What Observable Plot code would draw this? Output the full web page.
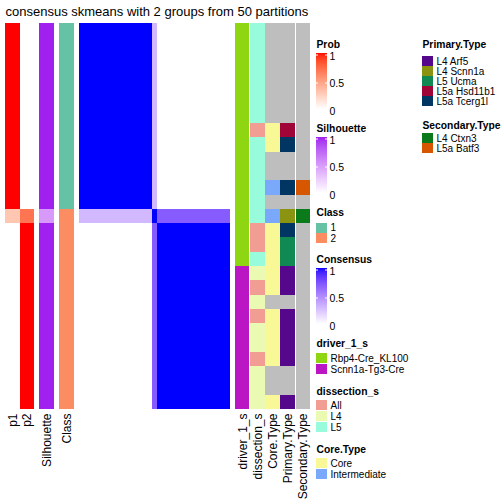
<!DOCTYPE html>
<html>
<head>
<meta charset="utf-8">
<script src="https://cdn.jsdelivr.net/npm/d3@7"></script>
<script src="https://cdn.jsdelivr.net/npm/@observablehq/plot@0.6"></script>
<style>
html,body{margin:0;padding:0;background:#fff;}
</style>
</head>
<body>
<div id="chart"></div>
<script>
// ---------- data ----------
const title = "consensus skmeans with 2 groups from 50 partitions";
const classes = [1,1,1,1,1,1,1,1,1,1,1,1,1,2,2,2,2,2,2,2,2,2,2,2,2,2,2];
const p1 = [1,1,1,1,1,1,1,1,1,1,1,1,1,0.3,0,0,0,0,0,0,0,0,0,0,0,0,0];
const p2 = [0,0,0,0,0,0,0,0,0,0,0,0,0,0.7,1,1,1,1,1,1,1,1,1,1,1,1,1];
const silhouette = [1,1,1,1,1,1,1,1,1,1,1,1,1,0.5,1,1,1,1,1,1,1,1,1,1,1,1,1];
const A = [1,1,1,1,1,1,1,1,1,1,1,1,1,.3,0,0,0,0,0,0,0,0,0,0,0,0,0];
const M = [.3,.3,.3,.3,.3,.3,.3,.3,.3,.3,.3,.3,.3,1,.7,.7,.7,.7,.7,.7,.7,.7,.7,.7,.7,.7,.7];
const B = [0,0,0,0,0,0,0,0,0,0,0,0,0,.7,1,1,1,1,1,1,1,1,1,1,1,1,1];
const consensus = [A,A,A,A,A,A,A,A,A,A,A,A,A,M,B,B,B,B,B,B,B,B,B,B,B,B,B];
const R = "Rbp4-Cre_KL100", S = "Scnn1a-Tg3-Cre";
const driver = [R,R,R,R,R,R,R,R,R,R,R,R,R,R,R,R,R,S,S,S,S,S,S,S,S,S,S];
const dissection = ["L5","L5","L5","L5","L5","L5","L5","All","L5","L5","L5","L5","L5","L5","All","All","L5","L4","All","L4","All","L4","L4","All","L4","L4","L4"];
const coreType = [null,null,null,null,null,null,null,"Core","Core",null,null,"Intermediate",null,"Intermediate","Core","Core","Core","Core","Core",null,"Core","Core","Core","Core",null,null,"Core"];
const primaryType = [null,null,null,null,null,null,null,"L5a Hsd11b1","L5a Tcerg1l",null,null,"L5a Tcerg1l",null,"L4 Scnn1a","L5a Tcerg1l","L5 Ucma","L5 Ucma","L4 Arf5","L4 Arf5",null,"L4 Arf5","L4 Arf5","L4 Arf5","L4 Arf5",null,null,"L4 Arf5"];
const secondaryType = [null,null,null,null,null,null,null,null,null,null,null,"L5a Batf3",null,"L4 Ctxn3",null,null,null,null,null,null,null,null,null,null,null,null,null];
const legendTicks = [1, 0.5, 0];
const classLevels = [1, 2];
const driverLevels = [R, S];
const dissectionLevels = ["All","L4","L5"];
const coreLevels = ["Core","Intermediate"];
const primaryLevels = ["L4 Arf5","L4 Scnn1a","L5 Ucma","L5a Hsd11b1","L5a Tcerg1l"];
const secondaryLevels = ["L4 Ctxn3","L5a Batf3"];

// ---------- styles ----------
const NA = "#BEBEBE";
const classColor = {1:"#66C2A5", 2:"#FC8D62"};
const driverColor = {[R]:"#8ED612", [S]:"#BA16C3"};
const dissectionColor = {"All":"#F29D94","L4":"#EAFAB2","L5":"#98FBDC"};
const coreColor = {"Core":"#F8F896","Intermediate":"#7AA8FA"};
const primaryColor = {"L4 Arf5":"#56088C","L4 Scnn1a":"#8A9410","L5 Ucma":"#108A52","L5a Hsd11b1":"#9F0637","L5a Tcerg1l":"#023662"};
const secondaryColor = {"L4 Ctxn3":"#0A7A1B","L5a Batf3":"#D65700"};
const probCol = d3.interpolateLab("#FFFFFF", "#FF0000");
const silCol = d3.interpolateLab("#FFFFFF", "#A020F0");
const consCol = d3.interpolateLab("#FFFFFF", "#0000FF");
const font = "Liberation Sans, Arial, Helvetica, sans-serif";

// ---------- layout ----------
const N = classes.length;
const bodyTop = 23, bodyBottom = 409, rowH = (bodyBottom - bodyTop) / N;
const hmX0 = 79, hmX1 = 230, colW = (hmX1 - hmX0) / N;
const leftCols = [
  {name:"p1", x1:5, x2:19.7, values:p1, color:probCol},
  {name:"p2", x1:19.7, x2:34.3, values:p2, color:probCol},
  {name:"Silhouette", x1:39, x2:54, values:silhouette, color:silCol},
  {name:"Class", x1:59, x2:74, values:classes, color:v => classColor[v]}
];
const annoCols = [
  {name:"driver_1_s", values:driver, map:driverColor},
  {name:"dissection_s", values:dissection, map:dissectionColor},
  {name:"Core.Type", values:coreType, map:coreColor},
  {name:"Primary.Type", values:primaryType, map:primaryColor},
  {name:"Secondary.Type", values:secondaryType, map:secondaryColor}
].map((c, k) => ({...c, x1: 235 + k * 15.15, x2: 235 + k * 15.15 + 14.4}));

const cells = [];
for (const c of leftCols) c.values.forEach((v, i) => cells.push({x1:c.x1, x2:c.x2, y1:bodyTop + i*rowH, y2:bodyTop + (i+1)*rowH, fill:c.color(v)}));
consensus.forEach((row, i) => row.forEach((v, j) => cells.push({x1:hmX0 + j*colW, x2:hmX0 + (j+1)*colW, y1:bodyTop + i*rowH, y2:bodyTop + (i+1)*rowH, fill:consCol(v)})));
for (const c of annoCols) c.values.forEach((v, i) => cells.push({x1:c.x1, x2:c.x2, y1:bodyTop + i*rowH, y2:bodyTop + (i+1)*rowH, fill: v == null ? NA : c.map[v]}));

const colLabels = [...leftCols, ...annoCols].map(c => ({x:(c.x1 + c.x2) / 2, y:413, text:c.name}));

// gradient legends
const gradLegends = [
  {title:"Prob", off:0, color:probCol},
  {title:"Silhouette", off:84, color:silCol},
  {title:"Consensus", off:215, color:consCol}
];
const gx1 = 316, gx2 = 327;
const gradRects = [], gradTicks = [], gradLabels = [], legTitles = [];
for (const g of gradLegends) {
  const yb0 = 53 + g.off, yb1 = 109 + g.off, steps = 56;
  for (let s = 0; s < steps; s++) {
    const v = 1 - (s + 0.5) / steps;
    gradRects.push({x1:gx1, x2:gx2, y1:yb0 + s*(yb1-yb0)/steps, y2:yb0 + (s+1)*(yb1-yb0)/steps + 0.3, fill:g.color(v)});
  }
  for (const t of legendTicks) {
    const yt = 110.5 - t*56 + g.off;
    if (t > 0) {
      gradTicks.push({x1:gx1, x2:gx1+2, y:yt});
      gradTicks.push({x1:gx2-2, x2:gx2, y:yt});
    }
    gradLabels.push({x:329, y:111 - t*55.3 + g.off, text:String(t)});
  }
  legTitles.push({x:316, y:47 + g.off, text:g.title});
}
// discrete legends
const discrete = [
  {title:"Class", x:316, ty:215, ky:222.5, pitch:10.5, levels:classLevels, color:v => classColor[v]},
  {title:"driver_1_s", x:316, ty:346.5, ky:353, pitch:10.8, levels:driverLevels, color:v => driverColor[v]},
  {title:"dissection_s", x:316, ty:394, ky:400, pitch:10.8, levels:dissectionLevels, color:v => dissectionColor[v]},
  {title:"Core.Type", x:316, ty:452.5, ky:458, pitch:10.8, levels:coreLevels, color:v => coreColor[v]},
  {title:"Primary.Type", x:422, ty:47.3, ky:56, pitch:10, levels:primaryLevels, color:v => primaryColor[v]},
  {title:"Secondary.Type", x:422, ty:128.3, ky:133, pitch:10, levels:secondaryLevels, color:v => secondaryColor[v]}
];
const keyRects = [], keyLabels = [];
for (const d of discrete) {
  legTitles.push({x:d.x, y:d.ty, text:d.title});
  d.levels.forEach((lv, k) => {
    const y1 = d.ky + k*d.pitch;
    keyRects.push({x1:d.x, x2:d.x + 10.5, y1, y2:y1 + d.pitch - 0.5, fill:d.color(lv)});
    keyLabels.push({x:d.x + 14, y:y1 + d.pitch/2 - 0.2, text:String(lv)});
  });
}

const chart = Plot.plot({
  width: 504, height: 504, margin: 0,
  x: {domain:[0,504], range:[0,504], axis:null},
  y: {domain:[0,504], range:[0,504], axis:null},
  color: {type:"identity"},
  style: {fontFamily: font, background: "white"},
  marks: [
    Plot.rect(cells, {x1:"x1", x2:"x2", y1:"y1", y2:"y2", fill:"fill", shapeRendering:"crispEdges"}),
    Plot.text([{x:5, y:15, text:title}], {x:"x", y:"y", text:"text", textAnchor:"start", lineAnchor:"bottom", fontSize:13, fill:"black"}),
    Plot.text(colLabels, {x:"x", y:"y", text:"text", rotate:-90, textAnchor:"end", lineAnchor:"middle", fontSize:12, fill:"black"}),
    Plot.rect(gradRects, {x1:"x1", x2:"x2", y1:"y1", y2:"y2", fill:"fill"}),
    Plot.ruleY(gradTicks, {x1:"x1", x2:"x2", y:"y", stroke:"white", strokeWidth:1}),
    Plot.text(gradLabels, {x:"x", y:"y", text:"text", textAnchor:"start", lineAnchor:"middle", fontSize:10.5, fill:"black"}),
    Plot.text(legTitles, {x:"x", y:"y", text:"text", textAnchor:"start", lineAnchor:"bottom", fontSize:10.3, fontWeight:"bold", fill:"black"}),
    Plot.rect(keyRects, {x1:"x1", x2:"x2", y1:"y1", y2:"y2", fill:"fill", shapeRendering:"crispEdges"}),
    Plot.text(keyLabels, {x:"x", y:"y", text:"text", textAnchor:"start", lineAnchor:"middle", fontSize:10, fill:"black"})
  ]
});
document.getElementById("chart").appendChild(chart);
</script>
</body>
</html>
